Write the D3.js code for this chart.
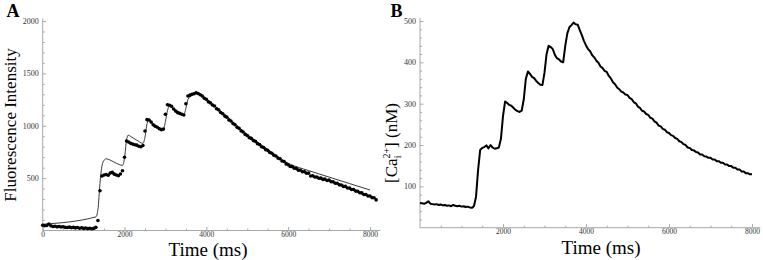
<!DOCTYPE html>
<html>
<head>
<meta charset="utf-8">
<script src="https://cdn.jsdelivr.net/npm/d3@7"></script>
<style>
  body { margin: 0; background: #fff; }
  svg text { font-family: "Liberation Serif", "DejaVu Serif", serif; }
</style>
</head>
<body>
<div id="chart"></div>
<script>
// Panel A: measured fluorescence (dots), sampled every 50 ms from t = 0
const fluoStart = 0;
const fluoStep = 50;
const fluoValues = [
  50, 45, 48, 62, 45, 38, 40, 35, 38, 33, 36, 30, 28, 32, 26, 30, 25, 28, 22, 26,
  20, 24, 18, 22, 17, 20, 30, 95, 380, 520, 530, 535, 528, 548, 555, 538, 530, 522, 540, 570,
  700, 855, 845, 832, 825, 818, 815, 804, 800, 812, 950, 1058, 1055, 1035, 1010, 995, 985, 972, 963, 968,
  1110, 1200, 1195, 1185, 1160, 1140, 1125, 1118, 1110, 1103, 1210, 1284, 1292, 1300, 1305, 1315, 1308, 1296, 1284, 1262,
  1252, 1228, 1218, 1198, 1188, 1162, 1152, 1126, 1114, 1092, 1082, 1056, 1045, 1021, 1009, 986, 975, 951, 940, 916,
  907, 886, 879, 858, 851, 829, 821, 799, 793, 772, 765, 744, 738, 718, 711, 691, 685, 664, 658, 636,
  628, 611, 610, 594, 593, 576, 575, 561, 561, 546, 548, 521, 523, 511, 511, 499, 500, 488, 490, 478,
  481, 466, 465, 451, 451, 436, 435, 421, 421, 406, 405, 391, 391, 376, 375, 360, 359, 344, 343, 330,
  329, 314, 312, 292
];

// Panel A: model fit (thin line), [time ms, intensity]
const fitPoints = [
  [0, 60], [1300, 130], [1350, 200], [1400, 450], [1450, 620], [1500, 670], [1550, 685],
  [1650, 672], [1800, 642], [1950, 622], [2000, 690], [2050, 865], [2090, 910], [2150, 898],
  [2300, 862], [2450, 832], [2500, 890], [2550, 1020], [2600, 1055], [2700, 1022], [2850, 982],
  [2950, 966], [3000, 1040], [3050, 1145], [3100, 1188], [3200, 1162], [3350, 1126], [3450, 1106],
  [3500, 1165], [3550, 1250], [3650, 1290], [3750, 1305], [3850, 1300], [4000, 1258],
  [4250, 1175], [4500, 1092], [4750, 1002], [5000, 918], [5500, 775], [6000, 642],
  [6500, 572], [7000, 510], [7500, 448], [8000, 387]
];

// Panel B: [Ca_i 2+] in nM, sampled every 50 ms from t = 0
const caStart = 0;
const caStep = 50;
const caValues = [
  60, 59, 58, 60, 64, 58, 57, 56, 57, 55, 56, 54, 55, 53, 54, 52, 55, 53, 52, 53,
  51, 52, 50, 51, 49, 48, 52, 75, 140, 188, 193, 195, 199, 192, 200, 194, 191, 192, 194, 215,
  270, 305, 302, 297, 295, 290, 285, 282, 280, 283, 310, 360, 378, 372, 365, 362, 355, 350, 346, 345,
  375, 420, 440, 437, 432, 418, 410, 407, 402, 400, 440, 470, 485, 490, 496, 492, 491, 478, 466, 452,
  441, 432, 427, 417, 412, 404, 399, 390, 386, 379, 377, 367, 361, 352, 347, 339, 335, 329, 327, 322,
  321, 314, 311, 304, 301, 293, 290, 283, 281, 275, 273, 266, 264, 257, 254, 247, 245, 239, 237, 231,
  229, 224, 222, 217, 215, 209, 207, 202, 200, 194, 193, 188, 187, 183, 182, 177, 177, 173, 172, 169,
  169, 165, 165, 161, 161, 157, 157, 153, 153, 149, 149, 145, 145, 141, 141, 136, 136, 132, 132, 129,
  129
];

// Tick values
const aXMajor = [0, 2000, 4000, 6000, 8000];
const aYMajor = [500, 1000, 1500, 2000];
const bXMajor = [2000, 4000, 6000, 8000];
const bYMajor = [100, 200, 300, 400, 500];

const width = 763;
const height = 260;
const axisColor = "#a8a8a8";

const svg = d3.select("#chart")
  .append("svg")
  .attr("width", width)
  .attr("height", height);

const fluoData = fluoValues.map((v, i) => ({ t: fluoStart + i * fluoStep, v: v }));
const caData = caValues.map((v, i) => ({ t: caStart + i * caStep, v: v }));

// Draws a Mathematica style frame: axes with inward ticks and minor ticks
function drawAxes(g, x, y, xMajor, xMinorStep, yMajor, yMinorStep, yTop) {
  const xd = x.domain();
  const yd = y.domain();
  const xMinor = d3.range(xMinorStep, xd[1], xMinorStep).filter(t => !xMajor.includes(t));
  const yMinor = d3.range(yMinorStep, yd[1] + 1, yMinorStep).filter(t => !yMajor.includes(t));

  // minor ticks
  g.append("g")
    .attr("transform", `translate(0,${y(0)})`)
    .call(d3.axisBottom(x).tickValues(xMinor).tickSize(-2).tickFormat(""));
  g.append("g")
    .attr("transform", `translate(${x(0)},0)`)
    .call(d3.axisLeft(y).tickValues(yMinor).tickSize(-2).tickFormat(""));

  // major ticks with labels
  g.append("g")
    .attr("class", "x-major")
    .attr("transform", `translate(0,${y(0)})`)
    .call(d3.axisBottom(x).tickValues(xMajor).tickSize(-3.5).tickPadding(1.2).tickFormat(d3.format("d")));
  g.append("g")
    .attr("class", "y-major")
    .attr("transform", `translate(${x(0)},0)`)
    .call(d3.axisLeft(y).tickValues(yMajor).tickSize(-3.5).tickPadding(4).tickFormat(d3.format("d")));

  g.selectAll(".domain").remove();
  g.selectAll(".tick line").attr("stroke", axisColor);
  g.selectAll(".x-major .tick text").attr("fill", "#333").style("font-size", "7.5px");
  g.selectAll(".y-major .tick text").attr("fill", "#333").style("font-size", "8px");

  // axis lines
  g.append("line")
    .attr("x1", x.range()[0]).attr("x2", x.range()[1])
    .attr("y1", y(0)).attr("y2", y(0))
    .attr("stroke", axisColor);
  g.append("line")
    .attr("x1", x(0)).attr("x2", x(0))
    .attr("y1", y(0)).attr("y2", yTop)
    .attr("stroke", axisColor);
}

// ---------- Panel A ----------
const xA = d3.scaleLinear().domain([0, 8250]).range([42.7, 380.2]);
const yA = d3.scaleLinear().domain([0, 2000]).range([230.5, 21]);

const gA = svg.append("g");
drawAxes(gA, xA, yA, aXMajor, 500, aYMajor, 100, 18.5);

gA.append("path")
  .datum(fitPoints)
  .attr("fill", "none")
  .attr("stroke", "#222")
  .attr("stroke-width", 0.9)
  .attr("d", d3.line().x(d => xA(d[0])).y(d => yA(d[1])).curve(d3.curveMonotoneX));

gA.selectAll(".dot")
  .data(fluoData)
  .enter()
  .append("circle")
  .attr("class", "dot")
  .attr("cx", d => xA(d.t))
  .attr("cy", d => yA(d.v))
  .attr("r", 1.8)
  .attr("fill", "#000");

gA.append("text")
  .attr("transform", "translate(15.5,125) rotate(-90)")
  .attr("text-anchor", "middle")
  .style("font-size", "17px")
  .text("Fluorescence Intensity");

gA.append("text")
  .attr("x", 208)
  .attr("y", 255.5)
  .attr("text-anchor", "middle")
  .style("font-size", "19px")
  .text("Time (ms)");

svg.append("text")
  .attr("x", 6.5)
  .attr("y", 17)
  .style("font-size", "18px")
  .style("font-weight", "bold")
  .text("A");

// ---------- Panel B ----------
const xB = d3.scaleLinear().domain([0, 8200]).range([420, 760.3]);
const yB = d3.scaleLinear().domain([0, 500]).range([227.7, 21]);

const gB = svg.append("g");
drawAxes(gB, xB, yB, bXMajor, 500, bYMajor, 20, 18);

gB.append("path")
  .datum(caData)
  .attr("fill", "none")
  .attr("stroke", "#000")
  .attr("stroke-width", 2)
  .attr("stroke-linejoin", "round")
  .attr("d", d3.line().x(d => xB(d.t)).y(d => yB(d.v)));

const yLabB = gB.append("text")
  .attr("transform", "translate(396.5,143) rotate(-90)")
  .attr("text-anchor", "middle")
  .style("font-size", "17px");
yLabB.append("tspan").text("[Ca");
yLabB.append("tspan").attr("dy", 4).style("font-size", "10px").text("i");
yLabB.append("tspan").attr("dx", -3).attr("dy", -11).style("font-size", "10px").text("2+");
yLabB.append("tspan").attr("dy", 7).text("] (nM)");

gB.append("text")
  .attr("x", 601)
  .attr("y", 253.5)
  .attr("text-anchor", "middle")
  .style("font-size", "19px")
  .text("Time (ms)");

svg.append("text")
  .attr("x", 390.5)
  .attr("y", 17)
  .style("font-size", "18px")
  .style("font-weight", "bold")
  .text("B");
</script>
</body>
</html>
